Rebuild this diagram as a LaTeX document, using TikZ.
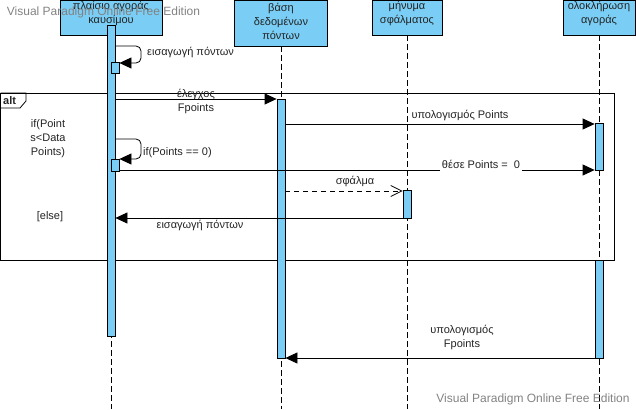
\documentclass[tikz,border=0pt]{standalone}
\usepackage{fontspec}
\setmainfont{Liberation Sans}
\usetikzlibrary{arrows.meta}
\definecolor{lblue}{RGB}{122,206,245}
\definecolor{txt}{RGB}{35,35,35}
\definecolor{wm}{RGB}{130,130,130}
\begin{document}
\begin{tikzpicture}[x=1pt,y=-1pt,
  every node/.style={font=\fontsize{11}{14}\selectfont, text=txt},
  pbox/.style={draw, fill=lblue, line width=0.8pt, inner sep=0pt},
  ptext/.style={align=center, inner sep=0pt},
  bar/.style={draw, fill=lblue, line width=0.8pt, inner sep=0pt, minimum width=8pt},
  lifeline/.style={line width=0.8pt, dash pattern=on 6pt off 3pt},
  msg/.style={line width=0.8pt, -{Triangle[length=12pt,width=11pt]}},
  reply/.style={line width=0.8pt, dash pattern=on 5pt off 4pt, -{Straight Barb[length=11pt,width=11pt]}},
  lbl/.style={inner sep=1pt, align=center},
  wmark/.style={font=\fontsize{12}{14}\selectfont, text=wm, inner sep=0pt}
]
\useasboundingbox (0,0) rectangle (636,409);
% participants
\node[pbox, minimum width=102pt, minimum height=35pt] (p1) at (111,17.5) {};
\node[pbox, minimum width=93pt, minimum height=46pt] (p2) at (281,23) {};
\node[pbox, minimum width=70pt, minimum height=35pt] (p3) at (407,17.5) {};
\node[pbox, minimum width=72pt, minimum height=35pt] (p4) at (599,17.5) {};
\node[ptext] (t1) at (111,13) {πλαίσιο αγοράς\\καυσίμου};
\node[ptext] (t2) at (281,21.5) {βάση\\δεδομένων\\πόντων};
\node[ptext] (t3) at (407,13.5) {μήνυμα\\σφάλματος};
\node[ptext] (t4) at (599,13.5) {ολοκλήρωση\\αγοράς};
% lifelines
\coordinate (e1) at (111,409);
\coordinate (e2) at (281,409);
\coordinate (e3) at (407,409);
\coordinate (e4) at (599,409);
\draw[lifeline] (p1.south) -- (e1);
\draw[lifeline] (p2.south) -- (e2);
\draw[lifeline] (p3.south) -- (e3);
\draw[lifeline] (p4.south) -- (e4);
% alt frame
\draw[line width=0.8pt] (0.5,93) rectangle (614,260);
\draw[line width=0.8pt] (0.5,93) -- (26,93) -- (26,101) -- (20,108) -- (0.5,108);
\node[anchor=west, inner sep=0pt, font=\fontsize{11}{14}\selectfont\bfseries] (altl) at (3,100.5) {alt};
\node[lbl] (g1) at (48,139) {if(Point\\s<Data\\Points)};
\node[lbl] (g2) at (50,217) {[else]};
% activation bars
\node[bar, minimum height=311pt] (b1) at (111,180.5) {};
\node[bar, minimum height=259pt] (b2) at (281,228.5) {};
\node[bar, minimum height=28pt] (b3) at (407,204) {};
\node[bar, minimum height=47pt] (b4a) at (599,146.5) {};
\node[bar, minimum height=98pt] (b4b) at (599,309) {};
\node[bar, minimum height=11pt] (s1) at (115,67.5) {};
\node[bar, minimum height=12pt] (s2) at (115,165) {};
% messages
\draw[msg, rounded corners=5pt] (b1.east |- 0,46) -- (141,46) -- (141,63) -- (s1.east |- 0,63);
\node[lbl, anchor=west] (l1) at (146,52) {εισαγωγή πόντων};

\draw[msg] (b1.east |- 0,99) -- (b2.west |- 0,99);
\node[lbl] (l2) at (196,101.5) {έλεγχος\\Fpoints};

\draw[msg] (b2.east |- 0,124) -- (b4a.west |- 0,124);
\node[lbl] (l3) at (460,115) {υπολογισμός Points};

\draw[msg, rounded corners=5pt] (b1.east |- 0,139) -- (141,139) -- (141,159) -- (s2.east |- 0,159);
\node[lbl, anchor=west] (l4) at (142,153) {if(Points == 0)};

\draw[msg] (s2.east |- 0,170) -- (b4a.west |- 0,170);
\node[lbl, fill=white, inner xsep=2pt, inner ysep=2.5pt] (l5) at (481,164.5) {θέσε Points = \ 0};

\draw[reply] (b2.east |- 0,191) -- (b3.west |- 0,191);
\node[lbl] (l6) at (355,181) {σφάλμα};

\draw[msg] (b3.west |- 0,218) -- (b1.east |- 0,218);
\node[lbl] (l7) at (200,225) {εισαγωγή πόντων};

\draw[msg] (b4b.west |- 0,358) -- (b2.east |- 0,358);
\node[lbl] (l8) at (462,337.5) {υπολογισμός\\Fpoints};
% watermarks
\node[wmark] (w1) at (103.5,12) {Visual Paradigm Online Free Edition};
\node[wmark] (w2) at (533,399) {Visual Paradigm Online Free Edition};
\end{tikzpicture}
\end{document}
